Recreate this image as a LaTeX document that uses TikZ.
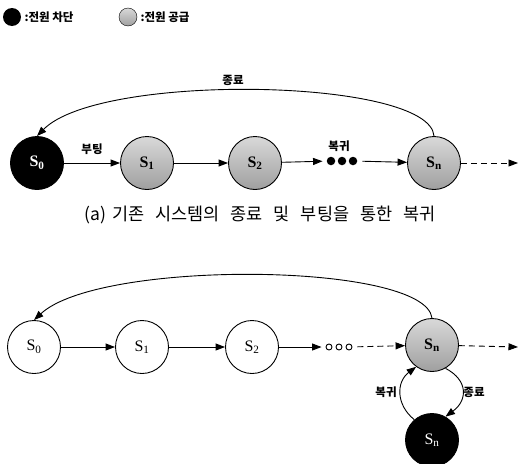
\documentclass[tikz,border=0pt]{standalone}
\usepackage{fontspec}
\setmainfont{Liberation Serif}
\newfontfamily\kr{Noto Sans CJK KR}
\usetikzlibrary{arrows.meta}
\tikzset{
  st/.style={circle,draw=black,line width=0.9pt,minimum size=53pt,inner sep=0pt,font=\fontsize{16}{16}\selectfont},
  gshade/.style={top color=gray!30,bottom color=gray!75},
  off/.style={st,fill=black,text=white},
  on/.style={st,gshade,font=\fontsize{16}{16}\selectfont\bfseries},
  idle/.style={st,fill=white},
  arr/.style={line width=0.9pt,-{Triangle[length=9.5pt,width=7pt]}},
  darr/.style={arr,dash pattern=on 6pt off 4pt},
  lab/.style={font=\kr\bfseries\fontsize{11.5}{11.5}\selectfont},
  fdot/.style={circle,fill=black,minimum size=8.5pt,inner sep=0pt},
  odot/.style={circle,draw=black,line width=0.9pt,minimum size=6pt,inner sep=0pt},
  leg/.style={circle,minimum size=18pt,inner sep=0pt}
}
\begin{document}
\begin{tikzpicture}[x=1pt,y=-1pt]
\useasboundingbox (0,0) rectangle (524,463);
% legend
\node[leg,fill=black] (l1) at (12,17) {};
\node[lab,anchor=west] (l1t) at (21,17) {:전원 차단};
\node[leg,draw=black,gshade] (l2) at (128,17) {};
\node[lab,anchor=west] (l2t) at (137,17) {:전원 공급};
% top row
\node[off,font=\fontsize{16}{16}\selectfont\bfseries] (a0) at (37,163) {S\textsubscript{0}};
\node[on] (a1) at (147,163) {S\textsubscript{1}};
\node[on] (a2) at (255,163) {S\textsubscript{2}};
\node[fdot] (ad1) at (331,161) {};
\node[fdot] (ad2) at (342,161) {};
\node[fdot] (ad3) at (353,161) {};
\node[on] (an) at (434,163) {S\textsubscript{n}};
\coordinate (aend) at (518,163);
\draw[arr] (a0) -- node[lab,above=5pt] {부팅} (a1);
\draw[arr] (a1) -- (a2);
\draw[arr,shorten >=4pt] (a2) -- (ad1);
\draw[arr,shorten <=5pt] (ad3) -- (an);
\node[lab] (rb) at (339,146) {복귀};
\draw[darr] (an) -- (aend);
\draw[arr] (an.north) .. controls (430,78) and (100,72) .. (a0.north);
\node[lab] (tz) at (233,80) {종료};
% caption
\node[font=\kr\fontsize{17.5}{17.5}\selectfont] (cap) at (260,215) {\spaceskip=11pt (a)\hspace{6pt}기존 시스템의 종료 및 부팅을 통한 복귀};
% bottom row
\node[idle] (b0) at (34,347) {S\textsubscript{0}};
\node[idle] (b1) at (142,347) {S\textsubscript{1}};
\node[idle] (b2) at (252,347) {S\textsubscript{2}};
\node[odot] (bd1) at (329,347) {};
\node[odot] (bd2) at (339,347) {};
\node[odot] (bd3) at (349,347) {};
\node[on] (bn) at (432,345) {S\textsubscript{n}};
\node[off] (bx) at (432,440) {S\textsubscript{n}};
\coordinate (bend) at (518,347);
\draw[arr] (b0) -- (b1);
\draw[arr] (b1) -- (b2);
\draw[arr,shorten >=4pt] (b2) -- (bd1);
\draw[darr,shorten <=5pt] (bd3) -- (bn);
\draw[darr] (bn) -- (bend);
\draw[arr] (bn.north) .. controls (425,262) and (100,259) .. (b0.north);
\draw[arr] (bx.131) .. controls (396,405) and (396,382) .. (bn.234);
\draw[arr] (bn.300) .. controls (468,380) and (468,400) .. (bx.60);
\node[lab] (lb1) at (386,392) {복귀};
\node[lab] (lb2) at (474,392) {종료};
\end{tikzpicture}
\end{document}
